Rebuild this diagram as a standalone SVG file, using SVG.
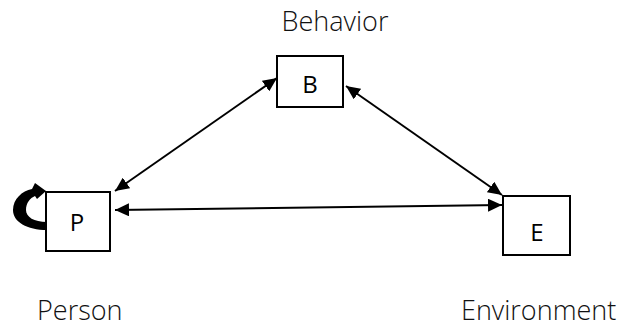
<svg xmlns="http://www.w3.org/2000/svg" width="625" height="327" viewBox="0 0 625 327">
<style>
.box{fill:#fff;stroke:#000;stroke-width:2}
.lbl{font-family:"Open Sans","Noto Sans","DejaVu Sans",sans-serif;font-weight:300;font-size:27px;fill:#111}
.in{font-family:"Open Sans","Noto Sans","DejaVu Sans",sans-serif;font-size:24px;fill:#000;text-anchor:middle}
.con{stroke:#000;stroke-width:2;fill:none;marker-start:url(#ah);marker-end:url(#ah)}
</style>
<defs>
<marker id="ah" markerUnits="userSpaceOnUse" markerWidth="15" markerHeight="13" refX="14" refY="6.5" orient="auto-start-reverse">
<path d="M0,0 L14,6.5 L0,13 Z" fill="#000"/>
</marker>
</defs>
<rect width="625" height="327" fill="#fff"/>
<g id="connectors">
<line class="con" x1="277" y1="78" x2="115" y2="191"/>
<line class="con" x1="346" y1="86" x2="502" y2="195"/>
<line class="con" x1="115" y1="210" x2="502" y2="205"/>
</g>
<g id="node-B">
<rect class="box" x="277" y="56" width="66" height="51"/>
<text class="in" x="310" y="93">B</text>
</g>
<g id="node-P">
<rect class="box" x="46" y="192" width="64" height="59"/>
<text class="in" x="77" y="231">P</text>
<path d="M47,230 C27,230 13,222 13,210 C13,199 22,191 32,189 L35,183 L46,191 L37,199 L35,196 C30,198 26,203 26,210 C26,217 34,222 47,222 Z" fill="#000"/>
</g>
<g id="node-E">
<rect class="box" x="503" y="196" width="67" height="59"/>
<text class="in" x="537" y="241">E</text>
</g>
<g id="labels">
<text class="lbl" x="335" y="31" text-anchor="middle">Behavior</text>
<text class="lbl" x="37" y="320">Person</text>
<text class="lbl" x="461" y="320">Environment</text>
</g>
</svg>
